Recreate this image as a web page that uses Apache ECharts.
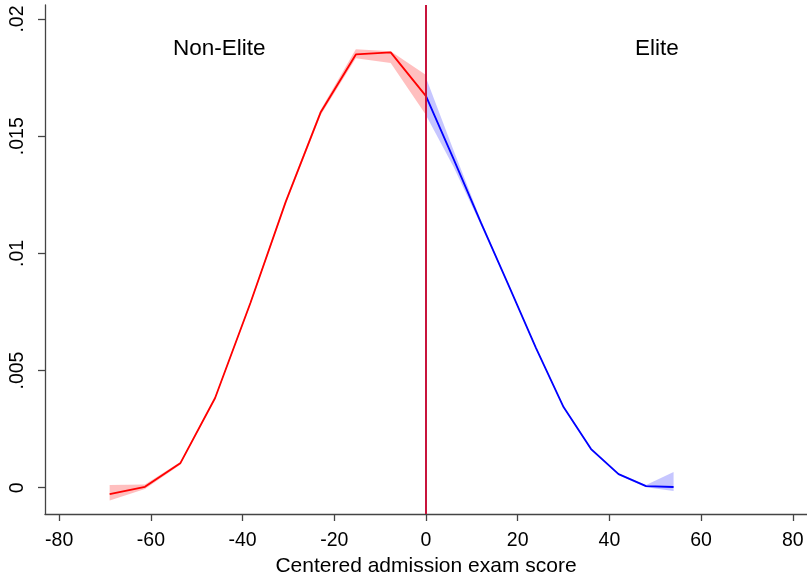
<!DOCTYPE html>
<html><head><meta charset="utf-8">
<script src="https://cdn.jsdelivr.net/npm/echarts@6/dist/echarts.min.js"></script>
<style>html,body{margin:0;padding:0;background:#fff}#c{width:807px;height:573px}</style>
</head><body><div id="c"></div>
<script>
const redX  = [-69, -61.3, -53.6, -46, -38.3, -30.6, -23, -15.3, -7.7, 0];
const redY  = [-0.00027, 0.00004, 0.00104, 0.00383, 0.00788, 0.0122, 0.01601, 0.01849, 0.01858, 0.01671];
const redLo = [-0.00055, -0.00006, 0.00098, 0.00377, 0.0078, 0.01211, 0.0159, 0.01833, 0.01813, 0.01591];
const redHi = [0.00012, 0.00014, 0.0011, 0.00389, 0.00796, 0.01229, 0.01612, 0.01871, 0.01863, 0.01761];
const blueX  = [0, 6, 12, 18, 24, 30, 36, 42, 48, 54];
const blueY  = [0.01671, 0.01403, 0.0113, 0.00865, 0.00596, 0.00344, 0.00165, 0.00058, 0.00007, 0.00003];
const blueLo = [0.0159, 0.0137, 0.0112, 0.0086, 0.0059, 0.0034, 0.0016, 0.00054, 0.00002, -0.00014];
const blueHi = [0.0175, 0.0144, 0.0114, 0.0087, 0.0060, 0.00349, 0.0017, 0.00062, 0.00012, 0.00067];
const xTicks = [-80, -60, -40, -20, 0, 20, 40, 60, 80];
const yTicks = [0, 0.005, 0.01, 0.015, 0.02];
const yTickLabels = ['0', '.005', '.01', '.015', '.02'];
const groupLabels = ['Non-Elite', 'Elite'];
const xTitle = 'Centered admission exam score';

const FONT = '"Liberation Sans", Arial, Helvetica, sans-serif';
const pairs = (xs, ys) => xs.map((x, i) => [x, ys[i]]);

function band(xs, lo, hi, color) {
  return {
    type: 'custom', silent: true, z: 1,
    data: pairs(xs, hi),
    encode: { x: 0, y: 1 },
    renderItem: (params, api) => {
      if (params.dataIndex !== 0) return null;
      const pts = [];
      for (let i = 0; i < xs.length; i++) pts.push(api.coord([xs[i], hi[i]]));
      for (let i = xs.length - 1; i >= 0; i--) pts.push(api.coord([xs[i], lo[i]]));
      return { type: 'polygon', shape: { points: pts }, style: { fill: color, stroke: null } };
    }
  };
}

const chart = echarts.init(document.getElementById('c'), null, { renderer: 'canvas' });
chart.setOption({
  animation: false,
  backgroundColor: '#fff',
  textStyle: { fontFamily: FONT },
  grid: { left: 45, right: 0, top: 5, bottom: 59, containLabel: false, outerBoundsMode: 'none' },
  xAxis: {
    type: 'value', min: -83.1, max: 83.1,
    name: xTitle, nameLocation: 'middle', nameGap: 38,
    nameTextStyle: { fontFamily: FONT, fontSize: 21, color: '#000' },
    axisLine: { show: true, onZero: false, lineStyle: { color: '#444', width: 1.3 } },
    axisTick: { show: true, length: 7, lineStyle: { color: '#444', width: 1.3 }, customValues: xTicks },
    axisLabel: { customValues: xTicks, fontFamily: FONT, fontSize: 19.5, color: '#000', margin: 17 },
    splitLine: { show: false }
  },
  yAxis: {
    type: 'value', min: -0.001122, max: 0.0206,
    axisLine: { show: true, onZero: false, lineStyle: { color: '#444', width: 1.3 } },
    axisTick: { show: true, length: 7, lineStyle: { color: '#444', width: 1.3 }, customValues: yTicks },
    axisLabel: { customValues: yTicks, rotate: 90, fontFamily: FONT, fontSize: 19.5, color: '#000', margin: 17,
      formatter: v => { const i = yTicks.findIndex(t => Math.abs(t - v) < 1e-9); return i >= 0 ? yTickLabels[i] : ''; } },
    splitLine: { show: false }
  },
  series: [
    band(redX, redLo, redHi, 'rgba(255,120,120,0.47)'),
    band(blueX, blueLo, blueHi, 'rgba(120,120,255,0.42)'),
    { type: 'line', name: 'Non-Elite', data: pairs(redX, redY), symbol: 'none',
      lineStyle: { color: '#ff0000', width: 1.8 }, z: 3 },
    { type: 'line', name: 'Elite', data: pairs(blueX, blueY), symbol: 'none',
      lineStyle: { color: '#0000ff', width: 1.8 }, z: 3,
      markLine: { silent: true, symbol: 'none', label: { show: false },
        lineStyle: { color: '#c8143c', width: 2, type: 'solid' }, data: [{ xAxis: 0 }] } }
  ],
  graphic: [
    { type: 'text', left: 173, top: 37, style: { text: groupLabels[0], font: '22.5px ' + FONT, fill: '#000' } },
    { type: 'text', left: 635, top: 37, style: { text: groupLabels[1], font: '22.5px ' + FONT, fill: '#000' } }
  ]
});
</script></body></html>
